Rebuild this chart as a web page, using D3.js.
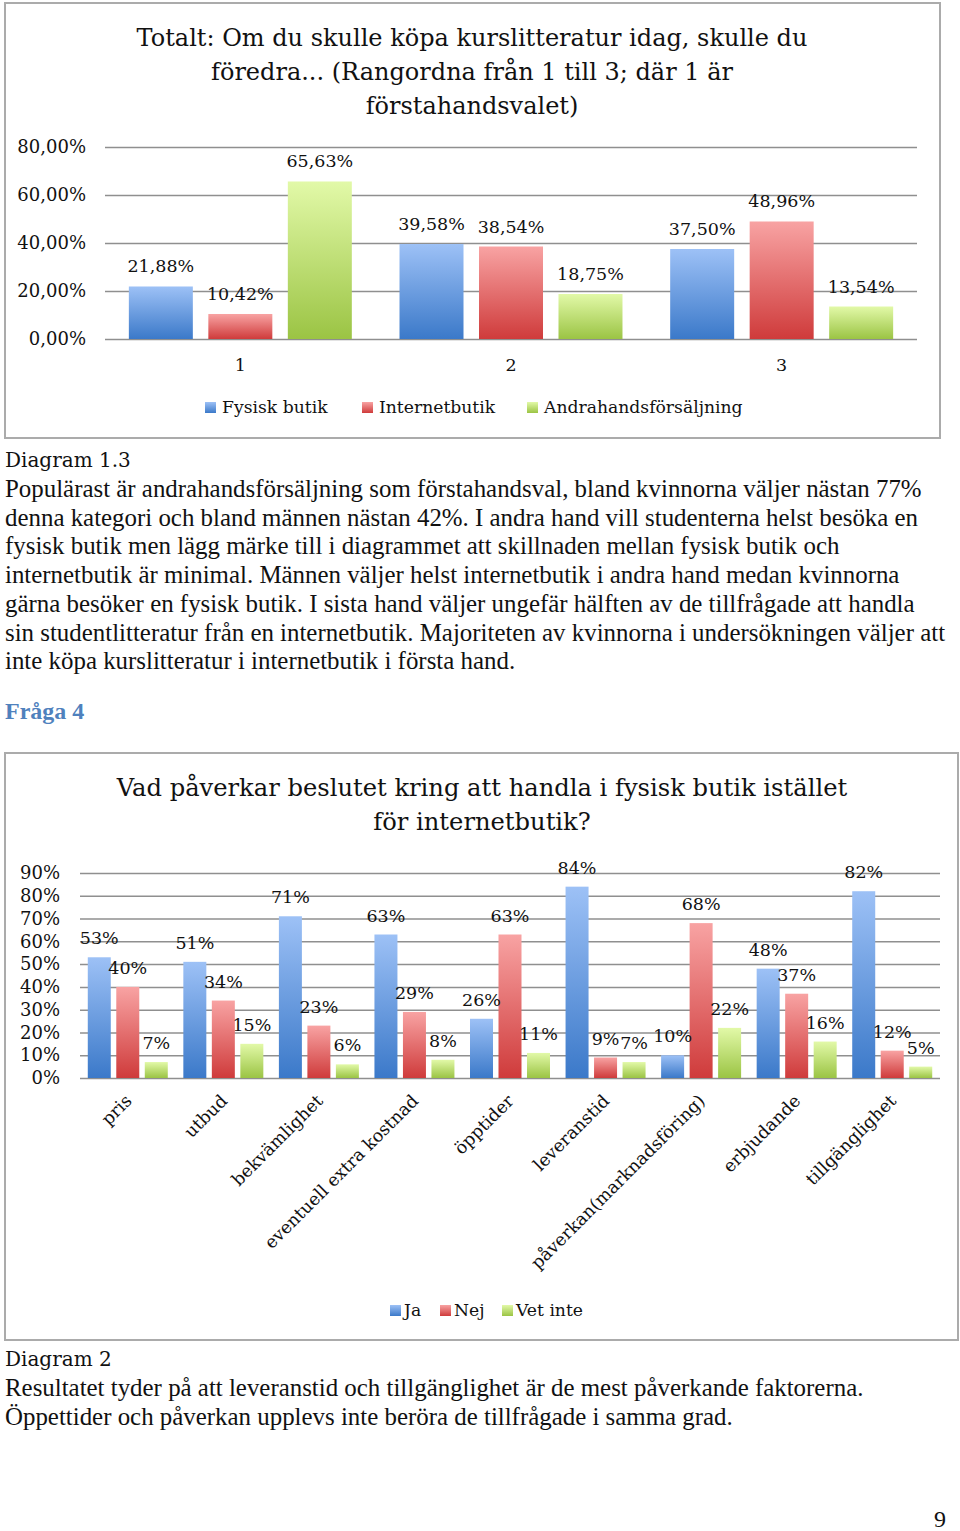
<!DOCTYPE html>
<html>
<head>
<meta charset="utf-8">
<script src="https://cdn.jsdelivr.net/npm/d3@7"></script>
<style>
  body { margin: 0; background: #fff; }
  svg { display: block; }
  .chart text { font-family: "DejaVu Serif", serif; fill: #111; }
  .page text { font-family: "Liberation Serif", "Times New Roman", serif; fill: #111; }
</style>
</head>
<body>
<div id="page"></div>
<script>
// diagram 1.3
var ranks = ['1', '2', '3'];
var rankSeries = ['Fysisk butik', 'Internetbutik', 'Andrahandsförsäljning'];
var fysisk = [21.88, 39.58, 37.50];
var internet = [10.42, 38.54, 48.96];
var andrahand = [65.63, 18.75, 13.54];
var yTicks1 = [0, 20, 40, 60, 80];
var title1 = ['Totalt: Om du skulle köpa kurslitteratur idag, skulle du',
              'föredra... (Rangordna från 1 till 3; där 1 är',
              'förstahandsvalet)'];

// diagram 2
var factors = ['pris', 'utbud', 'bekvämlighet', 'eventuell extra kostnad', 'öpptider',
               'leveranstid', 'påverkan(marknadsföring)', 'erbjudande', 'tillgänglighet'];
var factorSeries = ['Ja', 'Nej', 'Vet inte'];
var ja = [53, 51, 71, 63, 26, 84, 10, 48, 82];
var nej = [40, 34, 23, 29, 63, 9, 68, 37, 12];
var vetInte = [7, 15, 6, 8, 11, 7, 22, 16, 5];
var yTicks2 = [0, 10, 20, 30, 40, 50, 60, 70, 80, 90];
var title2 = ['Vad påverkar beslutet kring att handla i fysisk butik istället',
              'för internetbutik?'];

var text1 = [
  'Populärast är andrahandsförsäljning som förstahandsval, bland kvinnorna väljer nästan 77%',
  'denna kategori och bland männen nästan 42%. I andra hand vill studenterna helst besöka en',
  'fysisk butik men lägg märke till i diagrammet att skillnaden mellan fysisk butik och',
  'internetbutik är minimal. Männen väljer helst internetbutik i andra hand medan kvinnorna',
  'gärna besöker en fysisk butik. I sista hand väljer ungefär hälften av de tillfrågade att handla',
  'sin studentlitteratur från en internetbutik. Majoriteten av kvinnorna i undersökningen väljer att',
  'inte köpa kurslitteratur i internetbutik i första hand.'
];
var text2 = [
  'Resultatet tyder på att leveranstid och tillgänglighet är de mest påverkande faktorerna.',
  'Öppettider och påverkan upplevs inte beröra de tillfrågade i samma grad.'
];

var width = 960, height = 1531;
var colors = [['#9dc1f6', '#3b79c9'], ['#f8a3a3', '#cf3b3b'], ['#e2f9a8', '#9bc444']];

var svg = d3.select('#page').append('svg')
    .attr('width', width)
    .attr('height', height);

svg.append('rect').attr('width', width).attr('height', height).attr('fill', '#fff');

var defs = svg.append('defs');
colors.forEach(function(c, i) {
    var g = defs.append('linearGradient')
        .attr('id', 'grad' + i)
        .attr('x1', 0).attr('y1', 0).attr('x2', 0).attr('y2', 1);
    g.append('stop').attr('offset', '0%').attr('stop-color', c[0]);
    g.append('stop').attr('offset', '100%').attr('stop-color', c[1]);
});

function groupedBars(opt) {
    var g = svg.append('g').attr('class', 'chart');

    g.append('rect')
        .attr('x', opt.frame[0]).attr('y', opt.frame[1])
        .attr('width', opt.frame[2]).attr('height', opt.frame[3])
        .attr('fill', 'none').attr('stroke', '#ababab').attr('stroke-width', 2);

    g.selectAll('.title')
        .data(opt.title)
        .join('text')
        .attr('class', 'title')
        .attr('x', opt.titleX)
        .attr('y', function(d, i) { return opt.titleY + i * opt.titleGap; })
        .attr('text-anchor', 'middle')
        .style('font-size', opt.titleSize + 'px')
        .text(function(d) { return d; });

    var x0 = d3.scaleBand().domain(opt.cats).range(opt.xRange);
    var x1 = d3.scaleBand().domain(d3.range(opt.series.length))
        .range([0, x0.bandwidth()])
        .paddingInner(opt.padIn).paddingOuter(opt.padOut);
    var y = d3.scaleLinear().domain(opt.yDomain).range(opt.yRange);

    var yAxis = d3.axisLeft(y).tickValues(opt.yTicks)
        .tickSize(-(opt.xRange[1] - opt.xRange[0]))
        .tickPadding(opt.tickPad)
        .tickFormat(opt.tickFmt);

    var ya = g.append('g')
        .attr('transform', 'translate(' + opt.xRange[0] + ',0)')
        .call(yAxis);
    ya.select('.domain').remove();
    ya.selectAll('line').attr('stroke', '#8f8f8f').attr('stroke-width', 1.5);
    ya.selectAll('text')
        .attr('fill', '#111')
        .style('font-family', '"DejaVu Serif", serif')
        .style('font-size', opt.tickSize + 'px');

    var rows = [];
    opt.cats.forEach(function(c, ci) {
        opt.values.forEach(function(vals, si) {
            rows.push({ cat: c, s: si, v: vals[ci] });
        });
    });

    g.selectAll('.bar')
        .data(rows)
        .join('rect')
        .attr('class', 'bar')
        .attr('x', function(d) { return x0(d.cat) + x1(d.s); })
        .attr('y', function(d) { return y(d.v); })
        .attr('width', x1.bandwidth())
        .attr('height', function(d) { return y(0) - y(d.v); })
        .attr('fill', function(d) { return 'url(#grad' + d.s + ')'; });

    g.selectAll('.lbl')
        .data(rows)
        .join('text')
        .attr('class', 'lbl')
        .attr('x', function(d) { return x0(d.cat) + x1(d.s) + x1.bandwidth() / 2; })
        .attr('y', function(d) { return y(d.v) - opt.lblGap; })
        .attr('text-anchor', 'middle')
        .style('font-size', opt.lblSize + 'px')
        .text(function(d) { return opt.lblFmt(d.v); });

    return { g: g, x0: x0, y: y };
}

// ---- chart 1
var c1 = groupedBars({
    frame: [5, 3, 935, 435],
    title: title1, titleX: 472, titleY: 46, titleGap: 34, titleSize: 24,
    cats: ranks, series: rankSeries, values: [fysisk, internet, andrahand],
    xRange: [105, 917], padIn: 0.195, padOut: 0.3,
    yDomain: [0, 80], yRange: [339, 147], yTicks: yTicks1,
    tickPad: 19, tickSize: 18,
    tickFmt: function(d) { return d3.format('.2f')(d).replace('.', ',') + '%'; },
    lblGap: 14, lblSize: 17.5,
    lblFmt: function(v) { return d3.format('.2f')(v).replace('.', ',') + '%'; }
});

c1.g.selectAll('.xlab')
    .data(ranks)
    .join('text')
    .attr('class', 'xlab')
    .attr('x', function(d) { return c1.x0(d) + c1.x0.bandwidth() / 2; })
    .attr('y', 371)
    .attr('text-anchor', 'middle')
    .style('font-size', '17.5px')
    .text(function(d) { return d; });

var legend1X = [205, 362, 527];
var lg1 = c1.g.selectAll('.leg')
    .data(rankSeries)
    .join('g')
    .attr('class', 'leg')
    .attr('transform', function(d, i) { return 'translate(' + legend1X[i] + ',407)'; });
lg1.append('rect').attr('x', 0).attr('y', -5).attr('width', 11).attr('height', 11)
    .attr('fill', function(d, i) { return 'url(#grad' + i + ')'; });
lg1.append('text').attr('x', 17).attr('y', 6).style('font-size', '17.2px')
    .text(function(d) { return d; });

// ---- chart 2
var c2 = groupedBars({
    frame: [5, 753, 953, 587],
    title: title2, titleX: 482, titleY: 796, titleGap: 34, titleSize: 24.2,
    cats: factors, series: factorSeries, values: [ja, nej, vetInte],
    xRange: [80, 940], padIn: 0.193, padOut: 0.273,
    yDomain: [0, 90], yRange: [1078, 873], yTicks: yTicks2,
    tickPad: 20, tickSize: 18,
    tickFmt: function(d) { return d + '%'; },
    lblGap: 13, lblSize: 17.5,
    lblFmt: function(v) { return v + '%'; }
});

c2.g.selectAll('.xlab')
    .data(factors)
    .join('text')
    .attr('class', 'xlab')
    .attr('text-anchor', 'end')
    .attr('transform', function(d) {
        return 'translate(' + (c2.x0(d) + c2.x0.bandwidth() / 2 + 5) + ',1102)rotate(-45)';
    })
    .style('font-size', '17.5px')
    .text(function(d) { return d; });

var legend2X = [390, 440, 502];
var lg2 = c2.g.selectAll('.leg')
    .data(factorSeries)
    .join('g')
    .attr('class', 'leg')
    .attr('transform', function(d, i) { return 'translate(' + legend2X[i] + ',1310)'; });
lg2.append('rect').attr('x', 0).attr('y', -5).attr('width', 11).attr('height', 11)
    .attr('fill', function(d, i) { return 'url(#grad' + i + ')'; });
lg2.append('text').attr('x', 14).attr('y', 6).style('font-size', '17.2px')
    .text(function(d) { return d; });

// ---- page text
var page = svg.append('g').attr('class', 'page');

page.append('text').attr('x', 5).attr('y', 467)
    .style('font-family', '"DejaVu Serif", serif').style('font-size', '20px')
    .text('Diagram 1.3');

page.selectAll('.t1')
    .data(text1)
    .join('text')
    .attr('class', 't1')
    .attr('x', 5)
    .attr('y', function(d, i) { return 497 + i * 28.7; })
    .style('font-size', '24.9px')
    .text(function(d) { return d; });

page.append('text').attr('x', 5).attr('y', 719)
    .style('font-size', '24px').style('font-weight', 'bold')
    .style('fill', '#4f81bd')
    .text('Fråga 4');

page.append('text').attr('x', 5).attr('y', 1366)
    .style('font-family', '"DejaVu Serif", serif').style('font-size', '20px')
    .text('Diagram 2');

page.selectAll('.t2')
    .data(text2)
    .join('text')
    .attr('class', 't2')
    .attr('x', 5)
    .attr('y', function(d, i) { return 1396 + i * 28.7; })
    .style('font-size', '24.9px')
    .text(function(d) { return d; });

page.append('text').attr('x', 946).attr('y', 1527)
    .attr('text-anchor', 'end')
    .style('font-size', '24px')
    .text('9');
</script>
</body>
</html>
